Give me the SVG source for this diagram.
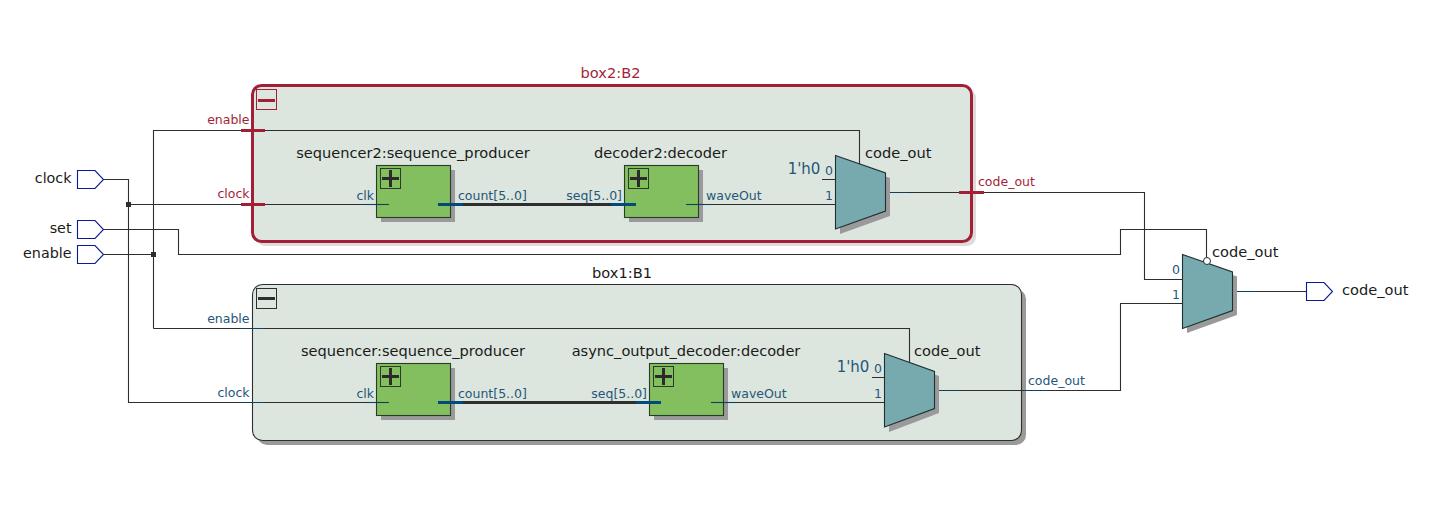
<svg xmlns="http://www.w3.org/2000/svg" width="1429" height="513" viewBox="0 0 1429 513">
<style>
text{font-family:"DejaVu Sans",Verdana,sans-serif;font-size:14.6px;fill:#1a1a1a}
.io{font-size:14.3px}
.p{font-size:12.5px;fill:#25567a}
.r{font-size:12.5px;fill:#a31f38}
.w{fill:none;stroke:#2e2e2e;stroke-width:1.1}
.s{fill:none;stroke:#123f5c;stroke-width:1.1}
.bus{fill:none;stroke:#2e2e2e;stroke-width:3}
.busb{fill:none;stroke:#004b7a;stroke-width:3}
.tick{fill:none;stroke:#a31f38;stroke-width:3}
.pin{fill:#fff;stroke:#0a1a96;stroke-width:1.1}
.sh{fill:#9a9a9a}
.blk{fill:#83bf5f;stroke:#2b3a2b;stroke-width:1.1}
.mux{fill:#76aaae;stroke:#1f2f33;stroke-width:1.1}
.plus{fill:none;stroke:#2b3a2b;stroke-width:1}
.pl{fill:none;stroke:#2b2b2b;stroke-width:3}
.k{font-size:15px;fill:#25567a}
</style>
<g id="box2">
<rect x="256" y="89" width="720" height="157" rx="9" class="sh" opacity=".35"/>
<rect x="252.500" y="85.500" width="719" height="156" rx="9" fill="#dde6de" stroke="#a31f38" stroke-width="3"/>
<rect x="256.500" y="89.500" width="20" height="20" fill="none" stroke="#a31f38"/>
<path d="M258 100.500H275" stroke="#a31f38" stroke-width="3"/>
<text x="610.500" y="78" text-anchor="middle" style="fill:#a31f38">box2:B2</text>
<text x="249.500" y="124" text-anchor="end" class="r">enable</text>
<text x="249.500" y="198" text-anchor="end" class="r">clock</text>
<text x="978" y="186" class="r">code_out</text>
</g>
<g id="box1">
<rect x="257" y="289" width="769" height="156" rx="10" class="sh"/>
<rect x="252.500" y="284.500" width="769" height="156" rx="10" fill="#dde6de" stroke="#2e2e2e" stroke-width="1.1"/>
<rect x="256.500" y="288.500" width="20" height="20" fill="none" stroke="#2e2e2e"/>
<path d="M258 298.500H275" stroke="#2e2e2e" stroke-width="3"/>
<text x="622" y="278" text-anchor="middle">box1:B1</text>
<text x="249.500" y="323" text-anchor="end" class="p">enable</text>
<text x="249.500" y="397" text-anchor="end" class="p">clock</text>
<text x="1028" y="385" class="p">code_out</text>
</g>
<g id="connectors">
<path class="w" d="M103 179.500H128.500V402.500H365M128.500 204.500H365"/>
<path class="w" d="M103 254.500H153.500M153.500 328.500V130.500H859.500V164M153.500 328.500H909.500V362"/>
<path class="w" d="M103 229.500H178.500V254.500H1120.500V229.500H1206.500V258"/>
<path class="w" d="M885 192.500H1144.500V279.500H1183M935 390.500H1120.500V303.500H1183M1232 291.500H1306"/>
<path class="w" d="M686 204.500H835M711 402.500H885M822 179.500H835M872 377.500H885"/>
<path class="bus" d="M463 204.500H611M463 402.500H636"/>
<path class="busb" d="M611 204.500H636M636 402.500H661"/>
<path class="s" d="M240 328.500H264M240 402.500H264M885 192.500H909M935 390.500H959M1232 291.500H1256M1024 390.500H1048"/>
<path class="tick" d="M241 130.500H265M241 204.500H265M959 192.500H984"/>
<rect x="126" y="202" width="5" height="5" fill="#2e2e2e"/>
<rect x="151" y="252" width="5" height="5" fill="#2e2e2e"/>
</g>
<g id="clock"><path class="pin" d="M77.500 170.500H95L103.500 179.500L95 188.500H77.500Z"/><text x="71.500" y="183" text-anchor="end" class="io">clock</text></g>
<g id="set"><path class="pin" d="M77.500 220.500H95L103.500 229.500L95 238.500H77.500Z"/><text x="71.500" y="233" text-anchor="end" class="io">set</text></g>
<g id="enable"><path class="pin" d="M77.500 245.500H95L103.500 254.500L95 263.500H77.500Z"/><text x="71.500" y="258" text-anchor="end" class="io">enable</text></g>
<g id="code_out_pin"><path class="pin" d="M1306.500 282.500H1324L1332.500 291.500L1324 300.500H1306.500Z"/><text x="1342" y="295">code_out</text></g>
<g id="b2_seq">
<rect x="381" y="170" width="74" height="52" class="sh"/><rect x="376.500" y="165.500" width="74" height="52" class="blk"/>
<rect x="380.500" y="168.500" width="20" height="20" class="plus"/><path class="pl" d="M382 178.500H399M390.500 170V187"/>
<text x="413" y="158" text-anchor="middle">sequencer2:sequence_producer</text>
<text x="374" y="200" text-anchor="end" class="p">clk</text><text x="458" y="200" class="p">count[5..0]</text>
<path class="busb" d="M438 204.500H463"/><path class="s" d="M365 204.500H389"/>
</g>
<g id="b2_dec">
<rect x="629" y="170" width="74" height="52" class="sh"/><rect x="624.500" y="165.500" width="74" height="52" class="blk"/>
<rect x="628.500" y="168.500" width="20" height="20" class="plus"/><path class="pl" d="M630 178.500H647M638.500 170V187"/>
<text x="660.500" y="158" text-anchor="middle">decoder2:decoder</text>
<text x="622" y="200" text-anchor="end" class="p">seq[5..0]</text><text x="706" y="200" class="p">waveOut</text>
<path class="busb" d="M611 204.500H636"/><path class="s" d="M686 204.500H710"/>
</g>
<g id="b2_mux">
<path class="sh" d="M840 160.500L890 178V216L840 234Z"/><path class="mux" d="M835.500 155.500L885.500 173V211L835.500 229Z"/>
<text x="804" y="174" text-anchor="middle" class="k">1'h0</text>
<text x="829" y="175" text-anchor="middle" class="p">0</text><text x="829" y="200" text-anchor="middle" class="p">1</text>
<text x="865" y="158">code_out</text>
</g>
<g id="b1_seq">
<rect x="381" y="368" width="74" height="52" class="sh"/><rect x="376.500" y="363.500" width="74" height="52" class="blk"/>
<rect x="380.500" y="366.500" width="20" height="20" class="plus"/><path class="pl" d="M382 376.500H399M390.500 368V385"/>
<text x="413" y="356" text-anchor="middle">sequencer:sequence_producer</text>
<text x="374" y="398" text-anchor="end" class="p">clk</text><text x="458" y="398" class="p">count[5..0]</text>
<path class="busb" d="M438 402.500H463"/><path class="s" d="M365 402.500H389"/>
</g>
<g id="b1_dec">
<rect x="654" y="368" width="74" height="52" class="sh"/><rect x="649.500" y="363.500" width="74" height="52" class="blk"/>
<rect x="653.500" y="366.500" width="20" height="20" class="plus"/><path class="pl" d="M655 376.500H672M663.500 368V385"/>
<text x="686" y="356" text-anchor="middle">async_output_decoder:decoder</text>
<text x="647" y="398" text-anchor="end" class="p">seq[5..0]</text><text x="731" y="398" class="p">waveOut</text>
<path class="busb" d="M636 402.500H661"/><path class="s" d="M711 402.500H735"/>
</g>
<g id="b1_mux">
<path class="sh" d="M889 358L939 376V413L889 432Z"/><path class="mux" d="M884.500 353.500L934.500 371.500V408.500L884.500 427Z"/>
<text x="853" y="372" text-anchor="middle" class="k">1'h0</text>
<text x="878" y="373" text-anchor="middle" class="p">0</text><text x="878" y="398" text-anchor="middle" class="p">1</text>
<text x="914" y="356">code_out</text>
</g>
<g id="top_mux">
<path class="sh" d="M1187 259L1237 276.500V315L1187 333Z"/><path class="mux" d="M1182.500 254.500L1232.500 272V310.500L1182.500 328.500Z"/>
<circle cx="1207" cy="261" r="3.500" fill="#fff" stroke="#1f2f33"/>
<text x="1176" y="274" text-anchor="middle" class="p">0</text><text x="1176" y="299" text-anchor="middle" class="p">1</text>
<text x="1212" y="257">code_out</text>
</g>
</svg>
